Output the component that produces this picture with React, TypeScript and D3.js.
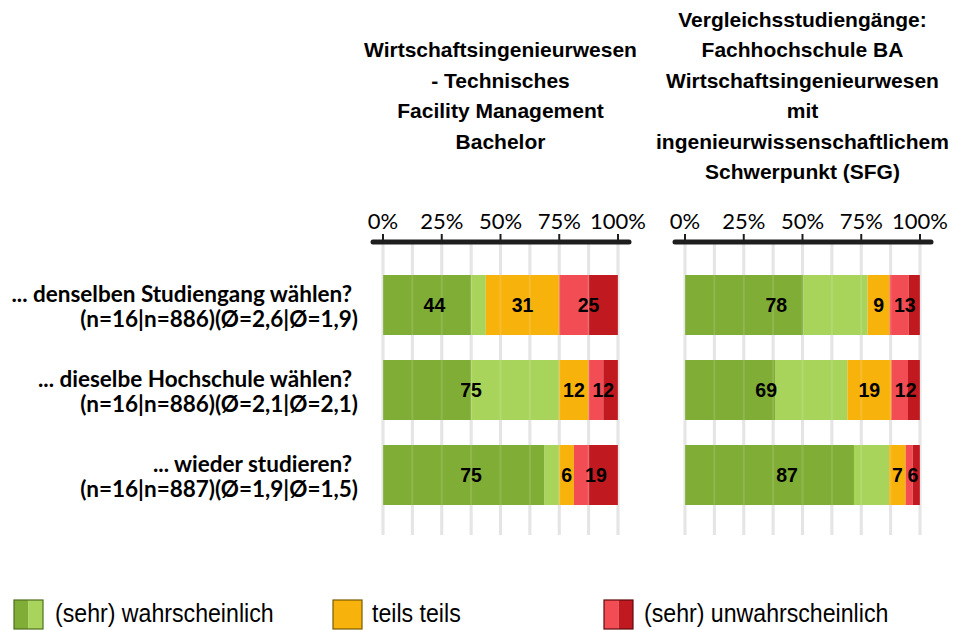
import React from "react";
import * as d3 from "d3";

const categories = ["denselben", "dieselbe", "wieder"];
const labelLine1 = [
  "... denselben Studiengang wählen?",
  "... dieselbe Hochschule wählen?",
  "... wieder studieren?",
];
const labelLine2 = [
  "(n=16|n=886)(Ø=2,6|Ø=1,9)",
  "(n=16|n=886)(Ø=2,1|Ø=2,1)",
  "(n=16|n=887)(Ø=1,9|Ø=1,5)",
];

const leftTitle = [
  "Wirtschaftsingenieurwesen",
  "- Technisches",
  "Facility Management",
  "Bachelor",
];
const rightTitle = [
  "Vergleichsstudiengänge:",
  "Fachhochschule BA",
  "Wirtschaftsingenieurwesen",
  "mit",
  "ingenieurwissenschaftlichem",
  "Schwerpunkt (SFG)",
];

// left panel (n=16)
const leftSehrWahrscheinlich = [37.5, 37.5, 68.75];
const leftWahrscheinlich = [6.25, 37.5, 6.25];
const leftTeils = [31.25, 12.5, 6.25];
const leftUnwahrscheinlich = [12.5, 6.25, 6.25];
const leftSehrUnwahrscheinlich = [12.5, 6.25, 12.5];

// right panel (comparison)
const rightSehrWahrscheinlich = [50.4, 38.3, 71.9];
const rightWahrscheinlich = [27.3, 30.8, 15.0];
const rightTeils = [9.4, 18.7, 7.0];
const rightUnwahrscheinlich = [8.1, 7.1, 3.0];
const rightSehrUnwahrscheinlich = [4.8, 5.1, 3.1];

const tickValues = [0, 25, 50, 75, 100];
const gridValues = [0, 12.5, 25, 37.5, 50, 62.5, 75, 87.5, 100];

const legendLabels = ["(sehr) wahrscheinlich", "teils teils", "(sehr) unwahrscheinlich"];

const keys = ["sw", "w", "t", "u", "su"];
const colors: Record<string, string> = {
  sw: "#80ad35",
  w: "#a8d45b",
  t: "#f7b20c",
  u: "#f24d55",
  su: "#c0191f",
};

function roundHalfEven(v: number) {
  const f = Math.floor(v);
  const diff = v - f;
  if (Math.abs(diff - 0.5) < 1e-9) return f % 2 === 0 ? f : f + 1;
  return Math.round(v);
}

function buildRows(a: number[], b: number[], c: number[], d: number[], e: number[]) {
  return categories.map((cat, i) => ({ cat, sw: a[i], w: b[i], t: c[i], u: d[i], su: e[i] }));
}

const leftRows = buildRows(
  leftSehrWahrscheinlich,
  leftWahrscheinlich,
  leftTeils,
  leftUnwahrscheinlich,
  leftSehrUnwahrscheinlich
);
const rightRows = buildRows(
  rightSehrWahrscheinlich,
  rightWahrscheinlich,
  rightTeils,
  rightUnwahrscheinlich,
  rightSehrUnwahrscheinlich
);

const W = 967;
const H = 630;
const panelX = [383, 685];
const panelW = 235;
const axisY = 242;
const gridBottom = 535;

const y = d3
  .scaleBand<string>()
  .domain(categories)
  .range([262.5, 517.5])
  .paddingInner(25 / 85)
  .paddingOuter(12.5 / 85);

const calibri = "Lato, 'Open Sans', sans-serif";
const arial = "'Liberation Sans', Arial, sans-serif";

function Panel({ rows, x0, title }: { rows: any[]; x0: number; title: string[] }) {
  const x = d3.scaleLinear().domain([0, 100]).range([x0, x0 + panelW]);
  const stack = d3.stack<any>().keys(keys)(rows);
  const cx = x(50);
  const lineH = 30.4;
  const firstBase = 27 + ((6 - title.length) / 2) * lineH;
  return (
    <g>
      {title.map((t, i) => (
        <text
          key={i}
          x={cx}
          y={firstBase + i * lineH}
          textAnchor="middle"
          fontFamily={arial}
          fontWeight="bold"
          fontSize={21}
          fill="#000"
        >
          {t}
        </text>
      ))}
      {gridValues.map((g) => (
        <line
          key={g}
          x1={x(g)}
          x2={x(g)}
          y1={axisY}
          y2={gridBottom}
          stroke="#e2e2e2"
          strokeWidth={3}
        />
      ))}
      {stack.map((layer) => (
        <g key={layer.key} fill={colors[layer.key]}>
          {layer.map((d, i) => (
            <rect
              key={i}
              x={x(d[0])}
              y={y(d.data.cat)}
              width={x(d[1]) - x(d[0])}
              height={y.bandwidth()}
            />
          ))}
        </g>
      ))}
      {gridValues.map((g) => (
        <line
          key={"o" + g}
          x1={x(g)}
          x2={x(g)}
          y1={axisY}
          y2={gridBottom}
          stroke="#ffffff"
          strokeOpacity={0.13}
          strokeWidth={2}
        />
      ))}
      {rows.map((r, i) => {
        const groups = [
          [0, r.sw + r.w],
          [r.sw + r.w, r.sw + r.w + r.t],
          [r.sw + r.w + r.t, r.sw + r.w + r.t + r.u + r.su],
        ];
        return groups.map((gr, j) => (
          <text
            key={i + "-" + j}
            x={x((gr[0] + gr[1]) / 2)}
            y={(y(r.cat) as number) + y.bandwidth() / 2}
            dy="0.36em"
            textAnchor="middle"
            fontFamily={arial}
            fontWeight="bold"
            fontSize={19.5}
            fill="#000"
          >
            {roundHalfEven(gr[1] - gr[0])}
          </text>
        ));
      })}
      <line
        x1={x(0) - 10}
        x2={x(100) + 11}
        y1={axisY}
        y2={axisY}
        stroke="#1e1e1e"
        strokeWidth={5}
        strokeLinecap="round"
      />
      {tickValues.map((t) => (
        <g key={t}>
          <line x1={x(t)} x2={x(t)} y1={axisY - 8} y2={axisY} stroke="#1e1e1e" strokeWidth={2} />
          <text
            x={x(t)}
            y={229}
            textAnchor="middle"
            fontFamily={calibri}
            fontSize={22}
            fill="#000"
          >
            {t + "%"}
          </text>
        </g>
      ))}
    </g>
  );
}

export default function App() {
  const legendItems = [
    { x: 14, tx: 55, cols: [colors.sw, colors.w], border: "#4f6e1f" },
    { x: 333, tx: 372, cols: [colors.t], border: "#7a5a00" },
    { x: 604, tx: 644, cols: [colors.u, colors.su], border: "#5e0b0e" },
  ];
  const sq = 29;
  return (
    <svg
      width={W}
      height={H}
      style={{ position: "absolute", left: 0, top: 0, background: "#fff" }}
    >
      <rect width={W} height={H} fill="#fff" />
      <Panel rows={leftRows} x0={panelX[0]} title={leftTitle} />
      <Panel rows={rightRows} x0={panelX[1]} title={rightTitle} />
      {categories.map((c, i) => {
        const cy = (y(c) as number) + y.bandwidth() / 2;
        return (
          <g key={c} fontFamily={calibri} fontWeight="bold" fontSize={22.5} fill="#000">
            <text x={352} y={cy - 3} textAnchor="end">
              {labelLine1[i]}
            </text>
            <text x={358} y={cy + 22} textAnchor="end">
              {labelLine2[i]}
            </text>
          </g>
        );
      })}
      {legendItems.map((it, i) => {
        const sw = sq / it.cols.length;
        return (
          <g key={i}>
            {it.cols.map((col, j) => (
              <rect key={j} x={it.x + j * sw} y={600} width={sw} height={sq} fill={col} />
            ))}
            <rect
              x={it.x}
              y={600}
              width={sq}
              height={sq}
              fill="none"
              stroke={it.border}
              strokeWidth={1.2}
            />
            <text
              transform={`translate(${it.tx},622) scale(0.89,1)`}
              fontFamily={arial}
              fontSize={26}
              fill="#000"
            >
              {legendLabels[i]}
            </text>
          </g>
        );
      })}
    </svg>
  );
}
